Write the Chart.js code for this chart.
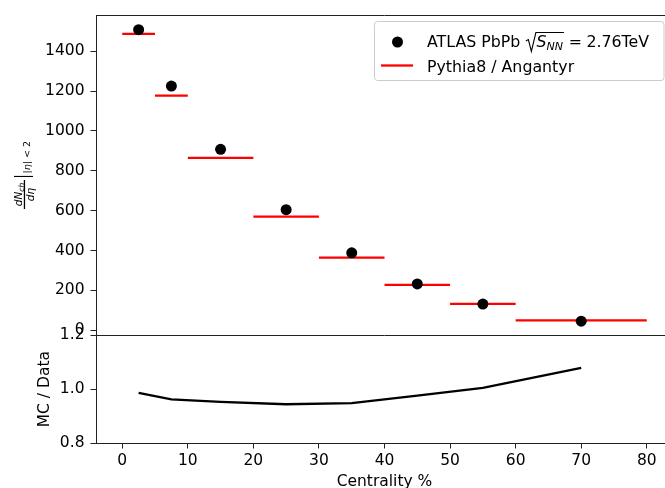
<!DOCTYPE html>
<html>
<head>
<meta charset="utf-8">
<script src="https://cdn.jsdelivr.net/npm/chart.js@4.4.1/dist/chart.umd.min.js"></script>
<style>
  html, body { margin: 0; padding: 0; background: #fff; overflow: hidden; }
  /* axes run past the right edge of the figure, as in the reference */
  #wrap { position: relative; width: 665px; height: 488px; overflow: hidden; }
  #chart { position: absolute; left: 0; top: 0; }
</style>
</head>
<body>
<div id="wrap"><canvas id="chart" width="680" height="488"></canvas></div>
<script>
// centrality bins (%)
const binLow  = [0, 5, 10, 20, 30, 40, 50, 60];
const binHigh = [5, 10, 20, 30, 40, 50, 60, 80];
const binMid  = [2.5, 7.5, 15, 25, 35, 45, 55, 70];

// dNch/deta, |eta| < 2
const atlasValues  = [1508, 1225, 908, 605, 389, 233, 132, 46];
const pythiaValues = [1487, 1177, 865, 570, 365, 228, 133, 50];

// MC / Data
const ratioValues = [0.986, 0.962, 0.953, 0.944, 0.948, 0.976, 1.005, 1.079];

const xTicks     = [0, 10, 20, 30, 40, 50, 60, 70, 80];
const yTicksTop  = [0, 200, 400, 600, 800, 1000, 1200, 1400];
const yTicksLow  = [0.8, 1.0, 1.2];

const FONT = 'DejaVu Sans';
const tickFont = { family: FONT, size: 15.5 };
const LEG_SIZE = 15.8;
const axisColor = '#222';

// horizontal segment per bin, null breaks the line between bins
const pythiaData = [];
binLow.forEach((lo, i) => {
  pythiaData.push({ x: lo, y: pythiaValues[i] });
  pythiaData.push({ x: binHigh[i], y: pythiaValues[i] });
  pythiaData.push({ x: binHigh[i], y: null });
});

// frame: top spine + divider between the two panels
const panelFrame = {
  id: 'panelFrame',
  afterDraw(chart) {
    const { ctx, chartArea: a, scales } = chart;
    ctx.save();
    ctx.strokeStyle = axisColor;
    ctx.lineWidth = 1;
    ctx.beginPath();
    ctx.moveTo(a.left, Math.round(a.top) + 0.5);
    ctx.lineTo(a.right, Math.round(a.top) + 0.5);
    const yDiv = Math.round(scales.y.bottom) + 0.5;
    ctx.moveTo(a.left, yDiv);
    ctx.lineTo(a.right, yDiv);
    ctx.moveTo(Math.round(a.right) - 0.5, a.top);
    ctx.lineTo(Math.round(a.right) - 0.5, a.bottom);
    ctx.stroke();
    ctx.restore();
  }
};

// legend with the sqrt(S_NN) label
const mathLegend = {
  id: 'mathLegend',
  afterDraw(chart) {
    const ctx = chart.ctx;
    const ds = chart.data.datasets;
    ctx.save();
    const bx = 374.5, by = 21.5, bw = 289.5, bh = 59, r = 3;
    ctx.beginPath();
    ctx.moveTo(bx + r, by);
    ctx.arcTo(bx + bw, by, bx + bw, by + bh, r);
    ctx.arcTo(bx + bw, by + bh, bx, by + bh, r);
    ctx.arcTo(bx, by + bh, bx, by, r);
    ctx.arcTo(bx, by, bx + bw, by, r);
    ctx.closePath();
    ctx.fillStyle = 'rgba(255,255,255,0.8)';
    ctx.fill();
    ctx.strokeStyle = '#cccccc';
    ctx.lineWidth = 1;
    ctx.stroke();

    // entry 1: marker
    ctx.fillStyle = ds[0].backgroundColor;
    ctx.beginPath();
    ctx.arc(397.5, 42, ds[0].pointRadius, 0, Math.PI * 2);
    ctx.fill();

    ctx.fillStyle = '#000';
    ctx.strokeStyle = '#000';
    ctx.textBaseline = 'alphabetic';
    ctx.textAlign = 'left';
    const base = 47;
    const plain = `${LEG_SIZE}px "${FONT}"`;
    ctx.font = plain;
    let x = 427;
    ctx.fillText('ATLAS PbPb ', x, base);
    x += ctx.measureText('ATLAS PbPb ').width;

    // radicand widths first, so the overline can be drawn
    ctx.font = `oblique ${LEG_SIZE}px "${FONT}"`;
    const wS = ctx.measureText('S').width;
    ctx.font = `oblique ${LEG_SIZE * 0.7}px "${FONT}"`;
    const wNN = ctx.measureText('NN').width;
    const rx = x + 10.5;
    ctx.lineWidth = 1.1;
    ctx.beginPath();
    ctx.moveTo(x + 0.5, base - 6);
    ctx.lineTo(x + 3, base - 7.5);
    ctx.lineTo(x + 6, base + 4.5);
    ctx.lineTo(rx, base - 14.5);
    ctx.lineTo(rx + wS + wNN + 1.5, base - 14.5);
    ctx.stroke();
    ctx.font = `oblique ${LEG_SIZE}px "${FONT}"`;
    ctx.fillText('S', rx + 0.5, base);
    ctx.font = `oblique ${LEG_SIZE * 0.7}px "${FONT}"`;
    ctx.fillText('NN', rx + 0.5 + wS, base + 3.2);
    x = rx + wS + wNN + 2;

    const thick = LEG_SIZE * 5 / 18;
    ctx.font = plain;
    x += thick;
    ctx.fillText('=', x, base);
    x += ctx.measureText('=').width + thick;
    ctx.fillText('2.76TeV', x, base);

    // entry 2: red line
    ctx.strokeStyle = ds[1].borderColor;
    ctx.lineWidth = ds[1].borderWidth;
    ctx.beginPath();
    ctx.moveTo(381, 65.5);
    ctx.lineTo(413, 65.5);
    ctx.stroke();
    ctx.fillText(ds[1].label, 427, 71.5);
    ctx.restore();
  }
};

// y label of the upper panel: dNch/deta |_{|eta|<2}
const fracLabel = {
  id: 'fracLabel',
  afterDraw(chart) {
    const ctx = chart.ctx;
    ctx.save();
    ctx.translate(24, 209);
    ctx.rotate(-Math.PI / 2);
    ctx.fillStyle = '#000';
    ctx.textBaseline = 'alphabetic';
    ctx.textAlign = 'left';
    const barW = 29;
    // numerator dN_ch
    ctx.font = `oblique 10.5px "${FONT}"`;
    const wdN = ctx.measureText('dN').width;
    ctx.font = `oblique 7.5px "${FONT}"`;
    const wch = ctx.measureText('ch').width;
    const nx = (barW - wdN - wch) / 2;
    ctx.font = `oblique 10.5px "${FONT}"`;
    ctx.fillText('dN', nx, -2.5);
    ctx.font = `oblique 7.5px "${FONT}"`;
    ctx.fillText('ch', nx + wdN, -0.5);
    // bar
    ctx.fillRect(0, -0.2, barW, 1.3);
    // denominator d eta
    ctx.font = `oblique 10.5px "${FONT}"`;
    const wde = ctx.measureText('d\u03B7').width;
    ctx.fillText('d\u03B7', (barW - wde) / 2, 9.5);
    // evaluation bar
    ctx.fillRect(32, -10, 1.1, 19);
    // subscript |eta| < 2
    ctx.font = `oblique 9.5px "${FONT}"`;
    ctx.fillText('|\u03B7|', 35.5, 6);
    const we = ctx.measureText('|\u03B7|').width;
    ctx.font = `9.5px "${FONT}"`;
    ctx.fillText(' < 2', 35.5 + we, 6);
    ctx.restore();
  }
};

new Chart(document.getElementById('chart'), {
  type: 'line',
  data: {
    datasets: [
      {
        label: 'ATLAS PbPb',
        data: binMid.map((x, i) => ({ x, y: atlasValues[i] })),
        xAxisID: 'x',
        yAxisID: 'y',
        showLine: false,
        backgroundColor: '#000',
        borderColor: '#000',
        borderWidth: 0,
        pointRadius: 5.5,
        order: 0
      },
      {
        label: 'Pythia8 / Angantyr',
        data: pythiaData,
        xAxisID: 'x',
        yAxisID: 'y',
        borderColor: '#ff0000',
        borderWidth: 2.3,
        pointRadius: 0,
        spanGaps: false,
        order: 1
      },
      {
        label: 'MC / Data',
        data: binMid.map((x, i) => ({ x, y: ratioValues[i] })),
        xAxisID: 'x',
        yAxisID: 'y2',
        borderColor: '#000',
        borderWidth: 2.3,
        pointRadius: 0,
        order: 2
      }
    ]
  },
  options: {
    responsive: false,
    animation: false,
    devicePixelRatio: 1,
    layout: { padding: { top: 14, right: 7, left: 0, bottom: 0 } },
    plugins: {
      legend: { display: false },
      tooltip: { enabled: false }
    },
    scales: {
      x: {
        type: 'linear',
        position: 'bottom',
        min: -4,
        max: 84,
        afterBuildTicks: s => { s.ticks = xTicks.map(v => ({ value: v })); },
        afterFit: s => { s.height = 45; s.paddingLeft = 0; s.paddingRight = 0; },
        ticks: { font: tickFont, color: '#000', padding: 3, maxRotation: 0, autoSkip: false,
                 callback: v => String(v) },
        grid: { drawOnChartArea: false, tickLength: 5.5, color: axisColor },
        border: { display: true, color: axisColor },
        title: { display: true, text: 'Centrality %', font: tickFont, color: '#000',
                 padding: { top: 0, bottom: -3 } }
      },
      y: {
        type: 'linear',
        axis: 'y',
        position: 'left',
        stack: 'panels',
        stackWeight: 321,
        weight: 1,
        min: -25,
        max: 1580,
        afterBuildTicks: s => { s.ticks = yTicksTop.map(v => ({ value: v })); },
        afterFit: s => { s.width = 96; },
        ticks: { font: tickFont, color: '#000', padding: 6, callback: v => String(v) },
        grid: { drawOnChartArea: false, tickLength: 5.5, color: axisColor },
        border: { display: true, color: axisColor }
      },
      y2: {
        type: 'linear',
        axis: 'y',
        position: 'left',
        stack: 'panels',
        stackWeight: 108,
        weight: 0,
        min: 0.8,
        max: 1.2,
        afterBuildTicks: s => { s.ticks = yTicksLow.map(v => ({ value: v })); },
        afterFit: s => { s.width = 96; },
        ticks: { font: tickFont, color: '#000', padding: 6, callback: v => v.toFixed(1) },
        grid: { drawOnChartArea: false, tickLength: 5.5, color: axisColor },
        border: { display: true, color: axisColor },
        title: { display: true, text: 'MC / Data', font: tickFont, color: '#000',
                 padding: { top: 36, bottom: 0 } }
      }
    }
  },
  plugins: [panelFrame, mathLegend, fracLabel]
});
</script>
</body>
</html>
